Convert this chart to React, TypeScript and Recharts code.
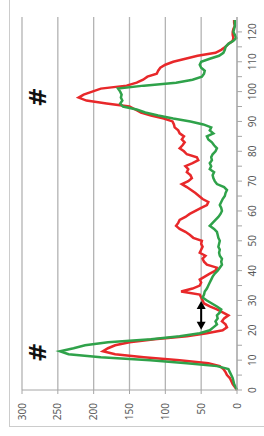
import { LineChart, Line, XAxis, YAxis, CartesianGrid, ReferenceLine, ReferenceDot } from 'recharts';

// values, one per position 0..124
const redSeries = [
  0, 3, 6, 8, 10, 14, 16, 19, 24, 40,
  80, 130, 170, 187, 180, 170, 150, 115, 70, 42,
  20, 14, 16, 21, 18, 12, 20, 28, 38, 46,
  48, 50, 52, 78, 62, 52, 50, 52, 45, 38,
  30, 28, 42, 46, 48, 44, 52, 50, 48, 50,
  49, 61, 66, 72, 80, 85, 82, 80, 72, 66,
  58, 50, 42, 40, 48, 53, 58, 64, 70, 77,
  68, 63, 65, 70, 68, 72, 62, 54, 56, 70,
  74, 80, 76, 73, 77, 74, 80, 82, 87, 88,
  90, 102, 120, 134, 142, 150, 182, 210, 221, 214,
  202, 190, 154, 140, 131, 125, 112, 110, 107, 100,
  89, 72, 55, 30, 22, 16, 12, 6, 5, 6,
  6, 5, 3, 4, 4,
];

const greenSeries = [
  0, 2, 4, 5, 6, 8, 10, 12, 28, 70,
  121, 190, 235, 247, 228, 212, 180, 120, 80, 52,
  38, 33, 28, 30, 27, 28, 24, 22, 28, 35,
  42, 48, 46, 45, 42, 40, 38, 36, 34, 31,
  27, 24, 21, 22, 21, 24, 25, 24, 26, 25,
  24, 26, 27, 28, 32, 38, 34, 30, 26, 23,
  21, 22, 24, 22, 20, 17, 16, 14, 18, 28,
  31, 33, 34, 32, 38, 36, 38, 35, 36, 34,
  30, 28, 32, 35, 40, 42, 33, 38, 36, 47,
  65, 89, 110, 128, 140, 159, 163, 160, 162, 161,
  163, 166, 130, 85, 62, 49, 46, 45, 50, 52,
  50, 38, 25, 19, 17, 16, 12, 5, 1, 3,
  5, 4, 3, 3, 3,
];

const valueTicks = [0, 50, 100, 150, 200, 250, 300];
const positionTicks = [0, 5, 10, 15, 20, 25, 30, 35, 40, 45, 50, 55, 60, 65, 70, 75, 80, 85, 90, 95, 100, 105, 110, 115, 120];

// markers on the chart
const hashMarks = [
  { pos: 12.6, value: 278 },
  { pos: 98.2, value: 278 },
];
const arrowSpan = { from: 20.2, to: 29.8, value: 50 };

const chartData = redSeries.map((r, i) => ({ pos: i, red: r, green: greenSeries[i] }));

const axisGray = '#a6a6a6';
const labelGray = '#595959';

const PositionTick = (props: any) => {
  const { x, y, payload } = props;
  if (payload.value % 10 !== 0) return <g />;
  return (
    <text x={x} y={y} dy="0.71em" textAnchor="middle" fontSize={10} fill={labelGray}>
      {payload.value}
    </text>
  );
};

const DoubleArrow = (props: any) => {
  const { x1, y1, x2, y2 } = props;
  const left = Math.min(x1, x2);
  const right = Math.max(x1, x2);
  const head = 8;
  const half = 4.5;
  return (
    <g>
      <line x1={left + head - 1} y1={y1} x2={right - head + 1} y2={y2} stroke="#000" strokeWidth={2} />
      <polygon points={`${left},${y1} ${left + head},${y1 - half} ${left + head},${y1 + half}`} fill="#000" />
      <polygon points={`${right},${y2} ${right - head},${y2 - half} ${right - head},${y2 + half}`} fill="#000" />
    </g>
  );
};

const HashMark = (props: any) => {
  const { cx, cy } = props;
  return (
    <text
      x={cx}
      y={cy}
      textAnchor="middle"
      dominantBaseline="central"
      fontSize={23}
      fontWeight="bold"
      fill="#111"
      fontFamily='"DejaVu Sans", Arial, sans-serif'
    >
      #
    </text>
  );
};

export default function App() {
  return (
    <div style={{ position: 'fixed', left: 0, top: 0, width: 264, height: 436, overflow: 'hidden', background: '#fff' }}>
      {/* the chart is drawn upright and turned a quarter turn counter-clockwise */}
      <div
        style={{
          position: 'absolute',
          left: 0,
          top: 0,
          width: 436,
          height: 264,
          transformOrigin: '0 0',
          transform: 'translateY(436px) rotate(-90deg)',
        }}
      >
        <div
          style={{
            position: 'absolute',
            left: 9,
            top: 9,
            width: 460,
            height: 290,
            borderLeft: '1.5px solid #cccccc',
            borderTop: '1.5px solid #cccccc',
          }}
        />
        <LineChart
          width={436}
          height={264}
          data={chartData}
          margin={{ top: 22, right: 17, left: 10, bottom: 5 }}
          style={{ fontFamily: '"Noto Sans", "Liberation Sans", sans-serif' }}
        >
          <CartesianGrid vertical={false} stroke="#b3b3b3" strokeWidth={1.3} />
          <XAxis
            dataKey="pos"
            type="number"
            domain={[0, 125]}
            ticks={positionTicks}
            tick={<PositionTick />}
            tickSize={5}
            tickMargin={7}
            height={22}
            stroke={axisGray}
            interval={0}
          />
          <YAxis
            type="number"
            domain={[0, 300]}
            ticks={valueTicks}
            tick={{ fontSize: 10, fill: labelGray }}
            tickSize={4}
            tickMargin={9}
            width={36}
            stroke={axisGray}
            interval={0}
          />
          <Line dataKey="red" stroke="#e8282a" strokeWidth={2.5} dot={false} isAnimationActive={false} />
          <Line dataKey="green" stroke="#2fa24a" strokeWidth={2.5} dot={false} isAnimationActive={false} />
          <ReferenceLine
            segment={[
              { x: arrowSpan.from, y: arrowSpan.value },
              { x: arrowSpan.to, y: arrowSpan.value },
            ]}
            shape={<DoubleArrow />}
          />
          {hashMarks.map((m) => (
            <ReferenceDot key={m.pos} x={m.pos} y={m.value} r={1} shape={<HashMark />} />
          ))}
        </LineChart>
      </div>
    </div>
  );
}
